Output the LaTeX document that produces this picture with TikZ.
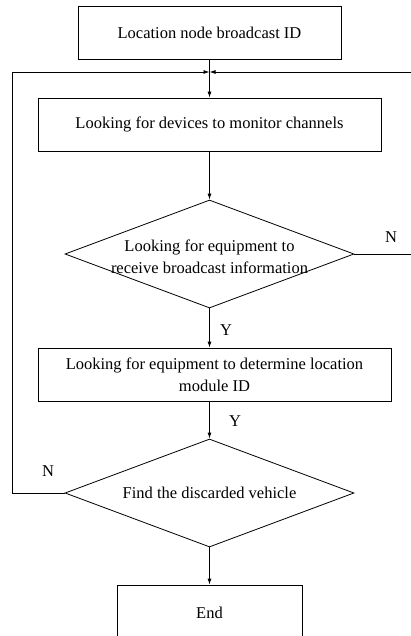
\documentclass[tikz,border=0pt]{standalone}
\usepackage{fontspec}
\setmainfont{Liberation Serif}
\usetikzlibrary{shapes.geometric,arrows.meta}
\tikzset{
  box/.style={draw, line width=0.8pt, minimum height=53pt, inner sep=0pt, align=center},
  dia/.style={draw, line width=0.8pt, diamond, inner sep=0pt, minimum width=289pt, minimum height=108pt},
  txt/.style={inner sep=0pt, align=center},
  lbl/.style={inner sep=0pt},
  conn/.style={line width=0.8pt, -{Latex[length=6pt,width=4pt]}},
  plain/.style={line width=0.8pt},
}
\begin{document}
\begin{tikzpicture}[x=1pt,y=-1pt,font=\fontsize{16.5}{22}\selectfont]
\useasboundingbox (0,0) rectangle (411,636);
\clip (0,0) rectangle (411,636);
\node[box, minimum width=263pt] (b1) at (209.5,32.5) {Location node broadcast ID};
\coordinate (j) at (209.5,72);
\node[box, minimum width=343pt] (b2) at (209.5,124.5) {Looking for devices to monitor channels};
\node[dia] (d1) at (209.5,254) {};
\node[txt] (t1) at (209.5,257) {Looking for equipment to\\receive broadcast information};
\node[box, minimum width=353pt] (b3) at (214.5,374.5) {Looking for equipment to determine location\\module ID};
\node[dia] (d2) at (209.5,493) {};
\node[txt] (t2) at (209.5,493) {Find the discarded vehicle};
\node[box, minimum width=185pt, minimum height=55pt] (e) at (209.5,612.5) {End};
\coordinate (lc) at (12,493);
\coordinate (rc) at (420,254);
\node[lbl] (n1) at (391,237) {N};
\node[lbl] (y1) at (226,330) {Y};
\node[lbl] (y2) at (235,421) {Y};
\node[lbl] (n2) at (48,471) {N};
\draw[plain] (b1.south) -- (j);
\draw[conn] (j) -- (b2.north);
\draw[conn] (b2.south) -- (d1.north);
\draw[conn] (d1.south) -- (d1.south |- b3.north);
\draw[conn] (b3.south -| d2.north) -- (d2.north);
\draw[conn] (d2.south) -- (e.north);
\draw[conn] (d2.west) -- (lc) |- (j);
\draw[conn] (d1.east) -- (rc) |- (j);
\end{tikzpicture}
\end{document}
